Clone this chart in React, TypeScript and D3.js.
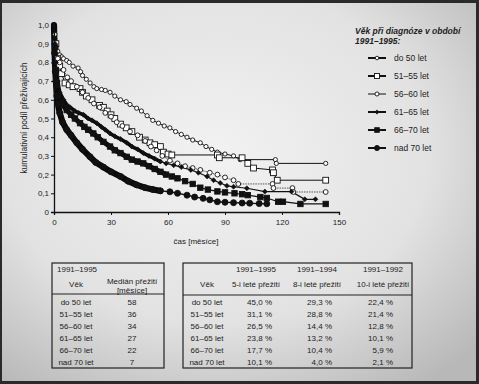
import * as d3 from 'd3'
import React, { useEffect, useRef } from 'react'

// survival curves: [month, cumulative share surviving]
const do50: [number, number][] = [
  [0, 1], [0.5, 0.95], [1, 0.9], [2, 0.86], [3, 0.84], [4, 0.83], [5, 0.82], [6.7, 0.81], [8, 0.8], [10, 0.78],
  [12.7, 0.77], [14, 0.75], [15, 0.73], [17, 0.71], [19, 0.69], [21, 0.67], [22.5, 0.66], [25, 0.655], [27, 0.65],
  [29.5, 0.64], [32, 0.62], [35, 0.6], [38, 0.59], [40, 0.575], [43.5, 0.555], [46, 0.54], [49, 0.515], [52, 0.49],
  [55, 0.475], [58, 0.46], [61, 0.45], [64, 0.43], [67, 0.415], [70, 0.4], [73, 0.385], [77, 0.37], [80, 0.35],
  [83, 0.335], [86, 0.32], [90, 0.31], [94.5, 0.3], [98, 0.28], [116.5, 0.28], [117, 0.26], [143, 0.26],
]
const let5155: [number, number][] = [
  [0, 1], [1, 0.9], [2, 0.82], [3, 0.78], [4, 0.74], [5.8, 0.69], [8, 0.68], [10, 0.67], [13.7, 0.66], [15, 0.64],
  [17, 0.62], [20, 0.6], [24, 0.57], [26, 0.56], [28, 0.54], [30, 0.52], [32, 0.5], [35, 0.47], [38, 0.45], [41, 0.43],
  [45, 0.4], [48, 0.385], [50.5, 0.37], [53, 0.36], [56, 0.35], [57.6, 0.32], [60, 0.31], [62, 0.305], [86, 0.305],
  [87, 0.29], [99, 0.29], [102, 0.26], [105, 0.235], [115, 0.225], [115.5, 0.21], [117.5, 0.17], [143, 0.17],
]
const let5660: [number, number][] = [
  [0, 1], [1, 0.88], [2, 0.82], [3, 0.8], [5, 0.76], [7, 0.72], [9, 0.7], [12, 0.67], [15, 0.64], [18, 0.61],
  [21, 0.58], [24, 0.56], [27, 0.53], [30, 0.51], [33, 0.48], [36, 0.46], [40, 0.43], [44, 0.41], [48, 0.38],
  [51, 0.35], [54, 0.33], [57, 0.3], [61, 0.275], [65, 0.26], [69, 0.245], [73, 0.235], [77, 0.225], [82, 0.21],
  [86, 0.2], [90, 0.185], [94.5, 0.17], [97, 0.15], [115, 0.15], [115.5, 0.128], [125.5, 0.128], [126, 0.107], [143, 0.107],
]
const let6165: [number, number][] = [
  [0, 1], [0.5, 0.9], [1, 0.8], [2, 0.7], [3, 0.64], [5, 0.6], [7, 0.57], [8.4, 0.56], [11, 0.54], [13, 0.53],
  [15.5, 0.52], [18, 0.5], [20, 0.49], [22.5, 0.475], [25, 0.455], [27, 0.44], [29.5, 0.42], [32, 0.405], [35, 0.39],
  [38.3, 0.37], [41, 0.35], [44, 0.335], [47, 0.315], [50, 0.3], [53, 0.285], [56, 0.27], [59, 0.26], [63, 0.25],
  [67, 0.24], [72, 0.225], [76, 0.21], [80.6, 0.19], [84, 0.17], [87.5, 0.155], [91, 0.14], [94.5, 0.135],
  [101.5, 0.127], [111, 0.109], [125, 0.109], [132, 0.068], [137.6, 0.068],
]
const let6670: [number, number][] = [
  [0, 1], [0.5, 0.88], [1, 0.76], [1.5, 0.68], [2, 0.62], [4, 0.58], [6.7, 0.545], [9, 0.52], [11, 0.5], [13.7, 0.475],
  [16, 0.455], [18, 0.44], [20.7, 0.42], [23, 0.4], [26, 0.375], [29.5, 0.35], [32, 0.33], [35, 0.315], [38.3, 0.295],
  [41, 0.28], [44, 0.27], [47, 0.26], [50, 0.245], [53, 0.23], [56, 0.215], [59, 0.2], [62, 0.19], [65, 0.18],
  [69, 0.165], [73, 0.15], [77, 0.13], [81, 0.12], [86, 0.11], [90, 0.105], [95, 0.1], [99, 0.095], [102, 0.09],
  [108.6, 0.08], [112, 0.075], [118, 0.055], [120.5, 0.055], [129.7, 0.043], [143, 0.043],
]
const nad70: [number, number][] = [
  [0, 1], [0.3, 0.85], [0.7, 0.75], [1, 0.7], [1.5, 0.62], [2, 0.58], [3, 0.53], [4.5, 0.48], [6.7, 0.44], [9, 0.41],
  [12, 0.37], [15, 0.335], [19, 0.295], [22, 0.265], [26, 0.24], [30, 0.215], [35, 0.19], [39, 0.165], [43.5, 0.145],
  [48, 0.13], [52, 0.12], [56, 0.113], [61, 0.108], [65, 0.1], [70, 0.09], [74, 0.08], [78.5, 0.073], [82, 0.065],
  [86, 0.055], [90, 0.052], [94.5, 0.05], [99, 0.048], [103, 0.047], [108, 0.045], [112, 0.044],
]

const groups = ['do 50 let', '51–55 let', '56–60 let', '61–65 let', '66–70 let', 'nad 70 let']
const curves = [do50, let5155, let5660, let6165, let6670, nad70]

const yTicks = [0, 0.1, 0.2, 0.3, 0.4, 0.5, 0.6, 0.7, 0.8, 0.9, 1.0]
const xTicks = [0, 30, 60, 90, 120, 150]

const medians = ['58', '36', '34', '27', '22', '7']
const surv5 = ['45,0 %', '31,1 %', '26,5 %', '23,8 %', '17,7 %', '10,1 %']
const surv8 = ['29,3 %', '28,8 %', '14,4 %', '13,2 %', '10,4 %', '4,0 %']
const surv10 = ['22,4 %', '21,4 %', '12,8 %', '10,1 %', '5,9 %', '2,1 %']

// marker / line look per group
const styles = [
  { shape: 'circle', r: 2.1, fill: '#fff', line: 1, band: 0, dense: 0, dash: '', legendLine: 2 },
  { shape: 'square', r: 2.9, fill: '#fff', line: 1, band: 0, dense: 0, dash: '', legendLine: 2 },
  { shape: 'circle', r: 2.4, fill: '#fff', line: 0.9, band: 0, dense: 0, dash: '1.5,1', legendLine: 1 },
  { shape: 'diamond', r: 2.5, fill: '#111', line: 1.2, band: 3.6, dense: 58, dash: '', legendLine: 2 },
  { shape: 'square', r: 2.7, fill: '#111', line: 1.2, band: 5, dense: 60, dash: '', legendLine: 2 },
  { shape: 'circle', r: 3, fill: '#111', line: 1.4, band: 6.2, dense: 56, dash: '', legendLine: 2 },
]

const font = '"Liberation Sans", Arial, sans-serif'

function drawMarker(g: any, shape: string, cx: number, cy: number, r: number, fill: string) {
  if (shape === 'circle') {
    g.append('circle').attr('cx', cx).attr('cy', cy).attr('r', r)
      .attr('fill', fill).attr('stroke', '#111').attr('stroke-width', 0.9)
  } else if (shape === 'square') {
    g.append('rect').attr('x', cx - r).attr('y', cy - r).attr('width', 2 * r).attr('height', 2 * r)
      .attr('fill', fill).attr('stroke', '#111').attr('stroke-width', 0.9)
  } else {
    g.append('path').attr('d', `M${cx},${cy - r}L${cx + r},${cy}L${cx},${cy + r}L${cx - r},${cy}Z`)
      .attr('fill', fill).attr('stroke', '#111').attr('stroke-width', 0.6)
  }
}

const App = () => {
  const ref = useRef<SVGSVGElement>(null)
  const width = 479
  const height = 384

  useEffect(() => {
    const svg = d3.select(ref.current)
    svg.selectAll('*').remove()

    // background with dark frame
    const defs = svg.append('defs')
    const grad = defs.append('radialGradient').attr('id', 'bg')
      .attr('cx', '45%').attr('cy', '40%').attr('r', '75%')
    grad.append('stop').attr('offset', '0%').attr('stop-color', '#f2f2f2')
    grad.append('stop').attr('offset', '60%').attr('stop-color', '#e2e2e2')
    grad.append('stop').attr('offset', '100%').attr('stop-color', '#b8b8b8')
    svg.append('rect').attr('width', width).attr('height', height).attr('fill', '#2a2a2a')
    svg.append('rect').attr('x', 2).attr('y', 3).attr('width', width - 5).attr('height', height - 6)
      .attr('fill', 'url(#bg)')

    const x = d3.scaleLinear().domain([0, 150]).range([54, 339])
    const y = d3.scaleLinear().domain([0, 1]).range([212, 25])

    const plot = svg.append('g')

    // curves
    curves.forEach((data, i) => {
      const st = styles[i]
      const line = d3.line<[number, number]>().x(d => x(d[0])).y(d => y(d[1]))
      plot.append('path').attr('d', line(data))
        .attr('fill', 'none').attr('stroke', st.dash ? '#444' : '#111')
        .attr('stroke-width', st.line).attr('stroke-dasharray', st.dash || null)
      if (st.band > 0) {
        plot.append('path').attr('d', line(data.filter(d => d[0] <= st.dense)))
          .attr('fill', 'none').attr('stroke', '#0a0a0a').attr('stroke-width', st.band)
          .attr('stroke-linejoin', 'round').attr('stroke-linecap', 'round')
      }
    })
    // markers drawn after all lines (skip the starting point at 1.0)
    curves.forEach((data, i) => {
      const st = styles[i]
      const g = plot.append('g')
      data.slice(1).forEach(d => drawMarker(g, st.shape, x(d[0]), y(d[1]), st.r, st.fill))
    })

    // axes
    const yAxis = d3.axisLeft(y).tickValues(yTicks).tickSize(3)
      .tickFormat(d => (+d === 0 ? '0' : d3.format('.1f')(+d).replace('.', ',')))
    const gy = svg.append('g').attr('transform', 'translate(54,0)').call(yAxis)
    const xAxis = d3.axisBottom(x).tickValues(xTicks).tickSize(3).tickFormat(d3.format('d'))
    const gx = svg.append('g').attr('transform', 'translate(0,212)').call(xAxis)
    ;[gy, gx].forEach(g => {
      g.select('.domain').attr('stroke', '#111').attr('stroke-width', 1.3)
      g.selectAll('.tick line').attr('stroke', '#111')
      g.selectAll('text').attr('font-family', font).attr('font-size', 8).attr('fill', '#222')
    })
    gy.selectAll('text').attr('x', -5)
    gx.selectAll('text').attr('y', 7)

    svg.append('text').attr('x', 196).attr('y', 244).attr('text-anchor', 'middle')
      .attr('font-family', font).attr('font-size', 8).attr('fill', '#222').text('čas [měsíce]')
    svg.append('text').attr('transform', 'translate(27,118) rotate(-90)').attr('text-anchor', 'middle')
      .attr('font-family', font).attr('font-size', 8.3).attr('fill', '#222').text('kumulativní podíl přežívajících')

    // legend
    const lg = svg.append('g')
    lg.append('text').attr('x', 355).attr('y', 34).attr('font-family', font).attr('font-size', 8.5)
      .attr('font-weight', 'bold').attr('font-style', 'italic').attr('fill', '#222')
      .text('Věk při diagnóze v období')
    lg.append('text').attr('x', 355).attr('y', 44).attr('font-family', font).attr('font-size', 8.5)
      .attr('font-weight', 'bold').attr('font-style', 'italic').attr('fill', '#222').text('1991–1995:')
    groups.forEach((name, i) => {
      const st = styles[i]
      const cy = 58 + i * 18
      lg.append('line').attr('x1', 368).attr('x2', 386).attr('y1', cy).attr('y2', cy)
        .attr('stroke', '#111').attr('stroke-width', st.legendLine)
      drawMarker(lg, st.shape, 377, cy, st.r * 0.85, st.fill)
      lg.append('text').attr('x', 394).attr('y', cy + 3).attr('font-family', font).attr('font-size', 8.5)
        .attr('fill', '#222').text(name)
    })

    // tables
    const rowY = d3.range(groups.length).map(i => 305 + i * 12)
    const txt = (g: any, tx: number, ty: number, s: string, anchor = 'middle') =>
      g.append('text').attr('x', tx).attr('y', ty).attr('text-anchor', anchor)
        .attr('font-family', font).attr('font-size', 8).attr('fill', '#222').text(s)

    const t1 = svg.append('g')
    t1.append('rect').attr('x', 52).attr('y', 263).attr('width', 112).attr('height', 105)
      .attr('fill', 'none').attr('stroke', '#222').attr('stroke-width', 1.2)
    t1.append('line').attr('x1', 52).attr('x2', 164).attr('y1', 294).attr('y2', 294)
      .attr('stroke', '#222').attr('stroke-width', 1)
    txt(t1, 57, 272, '1991–1995', 'start')
    txt(t1, 76, 287, 'Věk')
    txt(t1, 132, 284, 'Medián přežití')
    txt(t1, 132, 292.5, '[měsíce]')
    groups.forEach((g, i) => {
      txt(t1, 76, rowY[i], g)
      txt(t1, 132, rowY[i], medians[i])
    })

    const t2 = svg.append('g')
    t2.append('rect').attr('x', 183).attr('y', 263).attr('width', 229).attr('height', 105)
      .attr('fill', 'none').attr('stroke', '#222').attr('stroke-width', 1.2)
    t2.append('line').attr('x1', 183).attr('x2', 412).attr('y1', 295).attr('y2', 295)
      .attr('stroke', '#222').attr('stroke-width', 1)
    txt(t2, 256, 272, '1991–1995')
    txt(t2, 317, 272, '1991–1994')
    txt(t2, 383, 272, '1991–1992')
    txt(t2, 207, 287, 'Věk')
    txt(t2, 256, 287, '5-i leté přežití')
    txt(t2, 317, 287, '8-i leté přežití')
    txt(t2, 383, 287, '10-i leté přežití')
    groups.forEach((g, i) => {
      txt(t2, 207, rowY[i], g)
      txt(t2, 272, rowY[i], surv5[i], 'end')
      txt(t2, 332, rowY[i], surv8[i], 'end')
      txt(t2, 393, rowY[i], surv10[i], 'end')
    })
  }, [])

  return (
    <svg ref={ref} width={width} height={height}
      style={{ position: 'absolute', left: 0, top: 0, display: 'block' }} />
  )
}

export default App
